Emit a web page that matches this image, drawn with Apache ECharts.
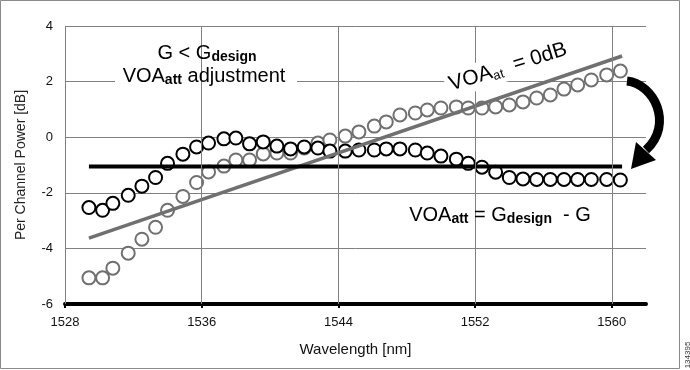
<!DOCTYPE html>
<html>
<head>
<meta charset="utf-8">
<script src="https://cdn.jsdelivr.net/npm/echarts@6.0.0/dist/echarts.min.js"></script>
<style>
html,body{margin:0;padding:0;background:#fff;}
#chart{width:690px;height:370px;}
</style>
</head>
<body>
<div id="chart"></div>
<script>
// Channel wavelengths [nm]
var wavelengths = [1529.4, 1530.2, 1530.8, 1531.7, 1532.5, 1533.3, 1534.0, 1534.9, 1535.7, 1536.4,
  1537.3, 1538.0, 1538.8, 1539.6, 1540.4, 1541.2, 1542.0, 1542.8, 1543.5, 1544.4,
  1545.2, 1546.1, 1546.8, 1547.6, 1548.5, 1549.2, 1550.0, 1550.9, 1551.6, 1552.4,
  1553.2, 1554.0, 1554.8, 1555.6, 1556.4, 1557.2, 1558.0, 1558.8, 1559.7, 1560.5];
// Per channel power with VOA attenuation = 0 dB (grey circles)
var powerVoa0 = [-5.06, -5.06, -4.71, -4.17, -3.67, -3.24, -2.63, -2.13, -1.63, -1.25,
  -1.04, -0.82, -0.82, -0.60, -0.57, -0.57, -0.39, -0.21, -0.10, 0.04,
  0.19, 0.40, 0.55, 0.80, 0.87, 0.98, 1.05, 1.09, 1.05, 1.05,
  1.09, 1.16, 1.27, 1.41, 1.52, 1.73, 1.88, 2.06, 2.24, 2.38];
// Per channel power after VOA adjustment (black circles)
var powerAdjusted = [-2.53, -2.63, -2.38, -2.09, -1.76, -1.45, -0.94, -0.61, -0.35, -0.21,
  -0.06, -0.03, -0.24, -0.17, -0.32, -0.42, -0.35, -0.39, -0.50, -0.50,
  -0.46, -0.46, -0.42, -0.42, -0.46, -0.57, -0.68, -0.79, -0.94, -1.08,
  -1.26, -1.45, -1.50, -1.52, -1.52, -1.52, -1.52, -1.52, -1.52, -1.54];
// Tilt trend line (VOA = 0 dB)
var tiltX = [1529.4, 1560.6];
var tiltY = [-3.63, 2.92];
// Target flat level
var targetX = [1529.4, 1560.6];
var targetY = [-1.05, -1.05];
// Axis ticks
var xTicks = [1528, 1536, 1544, 1552, 1560];
var yTicks = [-6, -4, -2, 0, 2, 4];

function zip(a, b) { return a.map(function (v, i) { return [v, b[i]]; }); }

var FONT = 'Liberation Sans, Arial, Helvetica, sans-serif';
var GRAY = '#707070';
var GRID = '#808080';

var chart = echarts.init(document.getElementById('chart'), null, {renderer: 'canvas'});

var option = {
  animation: false,
  backgroundColor: '#fff',
  grid: {left: 65, right: 44, top: 26, bottom: 66, containLabel: false, outerBoundsMode: 'none'},
  xAxis: {
    type: 'value',
    min: xTicks[0], max: 1562, interval: 8,
    name: 'Wavelength [nm]', nameLocation: 'middle', nameGap: 38,
    nameTextStyle: {fontFamily: FONT, fontSize: 15, color: '#111'},
    axisLine: {show: true, onZero: false, lineStyle: {color: '#000', width: 4}},
    axisTick: {show: true, length: 4, lineStyle: {color: '#000', width: 2}, customValues: xTicks},
    axisLabel: {margin: 12, fontFamily: FONT, fontSize: 13, color: '#111', customValues: xTicks,
      formatter: function (v) { return String(v); }},
    splitLine: {show: false}
  },
  yAxis: {
    type: 'value',
    min: yTicks[0], max: yTicks[yTicks.length - 1], interval: 2,
    name: 'Per Channel Power [dB]', nameLocation: 'middle', nameGap: 37,
    nameTextStyle: {fontFamily: FONT, fontSize: 14, color: '#222'},
    axisLine: {show: false},
    axisTick: {show: false},
    axisLabel: {margin: 12, fontFamily: FONT, fontSize: 13, color: '#111'},
    splitLine: {show: true, lineStyle: {color: GRID, width: 1}}
  },
  series: [
    {
      type: 'line', name: 'grid', z: 1, data: [], silent: true,
      markLine: {
        silent: true, symbol: ['none', 'none'], animation: false,
        label: {show: false},
        lineStyle: {color: GRID, width: 1, type: 'solid'},
        emphasis: {disabled: true},
        data: xTicks.map(function (v) { return {xAxis: v}; })
      }
    },
    {
      type: 'scatter', name: 'VOA 0 dB', z: 2,
      data: zip(wavelengths, powerVoa0),
      symbol: 'circle', symbolSize: 13,
      itemStyle: {color: '#fff', borderColor: GRAY, borderWidth: 2, opacity: 1},
      emphasis: {disabled: true}
    },
    {
      type: 'scatter', name: 'Adjusted', z: 3,
      data: zip(wavelengths, powerAdjusted),
      symbol: 'circle', symbolSize: 13,
      itemStyle: {color: '#fff', borderColor: '#000', borderWidth: 2, opacity: 1},
      emphasis: {disabled: true}
    },
    {
      type: 'line', name: 'Tilt', z: 4,
      data: zip(tiltX, tiltY),
      symbol: 'none',
      lineStyle: {color: GRAY, width: 3.5}
    },
    {
      type: 'line', name: 'Target', z: 4,
      data: zip(targetX, targetY),
      symbol: 'none',
      lineStyle: {color: '#000', width: 4}
    }
  ],
  graphic: [
    {type: 'rect', z: 100, silent: true,
     shape: {x: 0.5, y: 0.5, width: 679, height: 368},
     style: {fill: 'none', stroke: '#8a8a8a', lineWidth: 1}},
    {type: 'rect', z: 1.5, silent: true,
     shape: {x: 115, y: 42, width: 182, height: 48},
     style: {fill: '#fff'}},
    {type: 'text', z: 10, x: 207, y: 53,
     style: {
       text: '{m|G < G}{s|design}', align: 'center', verticalAlign: 'middle',
       rich: {
         m: {fontFamily: FONT, fontSize: 20, fill: '#000', lineHeight: 22},
         s: {fontFamily: FONT, fontSize: 14, fontWeight: 'bold', fill: '#000', lineHeight: 10, verticalAlign: 'bottom'}
       }
     }},
    {type: 'text', z: 10, x: 204, y: 76,
     style: {
       text: '{m|VOA}{s|att}{m| adjustment}', align: 'center', verticalAlign: 'middle',
       rich: {
         m: {fontFamily: FONT, fontSize: 20, fill: '#000', lineHeight: 22},
         s: {fontFamily: FONT, fontSize: 14, fontWeight: 'bold', fill: '#000', lineHeight: 10, verticalAlign: 'bottom'}
       }
     }},
    {type: 'text', z: 10, x: 508, y: 67, rotation: 0.30,
     style: {
       text: '{m|VOA}{s|at}{m|  = 0dB}', align: 'center', verticalAlign: 'middle',
       backgroundColor: '#fff', padding: [2, 4],
       rich: {
         m: {fontFamily: FONT, fontSize: 21, fill: '#000', lineHeight: 23},
         s: {fontFamily: FONT, fontSize: 13, fill: '#000', lineHeight: 10, verticalAlign: 'bottom'}
       }
     }},
    {type: 'text', z: 10, x: 500, y: 215,
     style: {
       text: '{m|VOA}{s|att}{m| = G}{s|design}{m|  - G}', align: 'center', verticalAlign: 'middle',
       rich: {
         m: {fontFamily: FONT, fontSize: 20, fill: '#000', lineHeight: 22},
         s: {fontFamily: FONT, fontSize: 14, fontWeight: 'bold', fill: '#000', lineHeight: 10, verticalAlign: 'bottom'}
       }
     }},
    {type: 'bezierCurve', z: 10, silent: true,
     shape: {x1: 627, y1: 81, cpx1: 654, cpy1: 84, cpx2: 674, cpy2: 124, x2: 646, y2: 150},
     style: {stroke: '#000', lineWidth: 9, fill: 'none'}},
    {type: 'polygon', z: 10, silent: true,
     shape: {points: [[631, 169], [636, 142], [656, 160]]},
     style: {fill: '#000'}},
    {type: 'text', z: 10, x: 688, y: 355, rotation: Math.PI / 2,
     style: {text: '134395', fontFamily: FONT, fontSize: 8, fill: '#333', align: 'center', verticalAlign: 'middle'}}
  ]
};

chart.setOption(option);
</script>
</body>
</html>
